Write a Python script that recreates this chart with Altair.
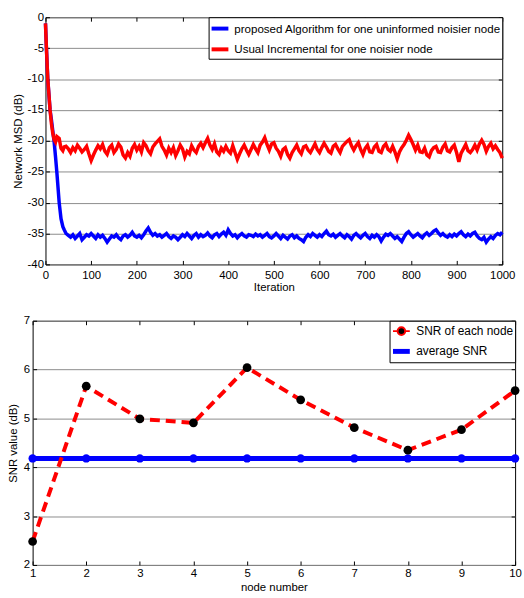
import altair as alt
import pandas as pd

# ---------------- top panel data ----------------
s_prop = "proposed Algorithm for one uninformed noisier node"
s_usual = "Usual Incremental for one noisier node"

iter_early = [0, 2, 5, 10, 13, 16, 19, 22, 25, 30, 34, 38, 41, 45]
red_early = [-1.0, -4.9, -10.0, -15.0, -17.2, -18.8, -19.8, -20.2, -19.3, -19.6, -21.2, -21.6, -21.0, -20.9]
blue_early = [-1.0, -4.9, -10.0, -15.0, -16.6, -18.4, -20.2, -22.6, -25.2, -30.0, -32.6, -33.9, -34.4, -35.0]

iter_main = list(range(50, 1001, 5))
red_main = [
    -21.3, -21.9, -21.1, -21.6, -20.7, -21.2, -21.8, -21.4, -20.9, -22.1,
    -23.2, -22.3, -21.5, -20.8, -21.3, -20.6, -21.7, -22.2, -21.1, -20.7,
    -21.9, -21.4, -20.5, -21.0, -22.3, -22.8, -21.9, -22.5, -21.2, -20.6,
    -21.5, -20.9, -21.8, -20.3, -20.8, -21.6, -22.1, -21.0, -20.5, -20.1,
    -19.7, -20.9, -21.5, -22.3, -21.2, -21.9, -21.1, -22.4, -21.6, -20.7,
    -21.3, -22.6, -21.7, -22.1, -20.8, -21.5, -21.9, -20.9, -20.4, -21.1,
    -20.3, -19.6, -20.7, -21.4, -20.5, -21.8, -22.2, -21.2, -21.7, -20.9,
    -21.6, -22.0, -20.8, -21.9, -23.0, -22.1, -21.3, -20.7, -21.5, -22.2,
    -21.4, -20.6, -21.3, -21.9, -20.7, -20.2, -19.5, -20.6, -21.5, -20.5,
    -20.3, -21.2, -21.7, -22.5, -21.4, -21.1, -22.2, -22.8, -21.9, -21.3,
    -20.7, -21.6, -22.1, -21.0, -20.8, -21.5, -21.9, -21.2, -20.5, -21.4,
    -21.9, -21.1, -20.4, -21.0, -21.7, -22.0, -20.9, -20.6, -21.3, -21.9,
    -20.9, -20.5, -20.1, -19.8, -20.8, -21.5, -20.8, -20.3, -21.4, -22.2,
    -21.2, -20.7, -21.8, -21.9, -21.0, -20.6, -21.7, -21.9, -20.9, -20.5,
    -21.4, -21.7, -20.9, -21.8, -22.9, -21.8, -21.1, -20.6, -19.9, -19.1,
    -19.8, -20.6, -21.5, -20.7, -21.8, -21.9, -21.2, -22.3, -22.6, -21.6,
    -21.1, -20.9, -21.8, -21.9, -21.0, -20.5, -21.6, -21.8, -21.1, -20.7,
    -21.9, -23.4, -22.0, -21.3, -20.6, -21.6, -21.9, -21.4, -20.7, -21.5,
    -20.5, -19.9, -20.6, -21.7, -20.9, -20.4, -21.3, -20.8, -21.4, -21.9,
    -22.8,
]
blue_main = [
    -35.3, -35.6, -35.2, -35.8, -35.4, -35.0, -36.0, -35.6, -35.2, -35.4,
    -35.0, -35.4, -35.8, -35.2, -35.6, -35.3, -35.8, -36.4, -35.9, -35.4,
    -35.6, -35.2, -35.7, -36.0, -35.4, -35.2, -35.6, -35.3, -34.8, -35.4,
    -35.6, -35.3, -35.7, -35.2, -34.6, -34.1, -34.8, -35.3, -35.0, -35.4,
    -35.2, -35.6, -35.3, -35.0, -35.5, -35.8, -35.4, -35.6, -36.0, -35.6,
    -35.2, -35.5, -35.0, -35.4, -35.8, -35.3, -35.0, -35.6, -35.2, -35.5,
    -35.3, -34.9, -35.4, -35.7, -35.2, -35.0, -35.5, -35.1, -34.8, -35.3,
    -34.4, -35.0, -35.4, -35.2, -35.7, -35.3, -35.0, -35.4, -35.6, -35.2,
    -35.3, -35.5, -35.1, -35.4, -35.2, -35.6, -35.3, -35.0, -35.5, -35.7,
    -35.4, -35.0, -35.4, -35.8, -35.3, -35.6, -35.9, -35.4, -35.2, -35.7,
    -35.4, -35.8, -36.0, -36.3, -35.6, -35.2, -35.5, -35.0, -35.3, -35.6,
    -35.2, -35.5, -35.0, -34.6, -35.2, -35.4, -35.1, -35.6, -35.3, -35.0,
    -35.4, -35.7, -35.2, -35.5, -35.9, -35.3, -35.0, -35.4, -35.7, -35.3,
    -35.0, -35.5, -35.8, -35.3, -35.6, -35.2, -35.5, -36.2, -35.6, -35.1,
    -35.3, -35.0, -35.4, -35.8, -35.5, -35.9, -36.3, -35.6, -35.0, -34.7,
    -35.2, -35.6, -35.3, -35.0, -35.4, -35.7, -35.2, -34.9, -35.3, -35.0,
    -34.6, -34.4, -34.9, -35.3, -35.0, -35.4, -35.6, -35.2, -35.5, -35.1,
    -35.4, -35.0, -34.7, -35.2, -35.5, -35.1, -35.4, -35.0, -34.8, -35.4,
    -35.8, -36.0, -35.6, -36.4, -35.9, -35.5, -35.8, -35.3, -35.0, -35.2,
    -34.8,
]

top_xticks = [0, 100, 200, 300, 400, 500, 600, 700, 800, 900, 1000]
top_yticks = [-40, -35, -30, -25, -20, -15, -10, -5, 0]

# ---------------- bottom panel data ----------------
nodes = [1, 2, 3, 4, 5, 6, 7, 8, 9, 10]
snr_node = [2.48, 5.66, 4.99, 4.91, 6.04, 5.38, 4.81, 4.35, 4.77, 5.57]
snr_avg = [4.18, 4.18, 4.18, 4.18, 4.18, 4.18, 4.18, 4.18, 4.18, 4.18]
leg_names = ["SNR of each node", "average SNR"]
bot_yticks = [2, 3, 4, 5, 6, 7]

FONT = "Liberation Sans"
BLUE = "#0000ff"
RED = "#ff0000"

rows = []
for it, v in zip(iter_early + iter_main, blue_early + blue_main):
    rows.append({"iter": it, "msd": v, "series": s_prop})
for it, v in zip(iter_early + iter_main, red_early + red_main):
    rows.append({"iter": it, "msd": v, "series": s_usual})
df_top = pd.DataFrame(rows)

df_bot = pd.DataFrame({"node": nodes, "snr": snr_node, "avg": snr_avg})
df_leg = pd.DataFrame({"series": leg_names})


def main_axis(orient, values, title, grid, label_pad, title_pad):
    return alt.Axis(orient=orient, values=values, title=title, grid=grid,
                    domain=False, ticks=True, tickSize=4, offset=-4,
                    labelPadding=label_pad, titlePadding=title_pad,
                    labelFlush=False, labelOverlap=False,
                    labelExpr="'' + datum.value")


def frame_axis(orient, values):
    return alt.Axis(orient=orient, values=values, title=None, grid=False,
                    labels=False, domain=False, ticks=True, tickSize=4, offset=-4)


# ---------------- top chart ----------------
xs_top = alt.Scale(domain=[0, 1000], nice=False, zero=False)
ys_top = alt.Scale(domain=[-40, 0], nice=False, zero=False)
top_legend = alt.Legend(title=None, orient="top-right", offset=0, padding=1,
                        rowPadding=2, symbolType="stroke", symbolSize=289,
                        symbolStrokeWidth=4, labelFontSize=11.7, labelLimit=0,
                        labelOffset=4, strokeColor="black", fillColor="white",
                        labelFont=FONT, labelColor="black")
color_top = alt.Color("series:N", scale=alt.Scale(domain=[s_prop, s_usual], range=[BLUE, RED]),
                      legend=top_legend)

blue_line = alt.Chart(df_top).transform_filter(alt.datum.series == s_prop).mark_line(strokeWidth=3.5).encode(
    x=alt.X("iter:Q", scale=xs_top, axis=main_axis("bottom", top_xticks, "Iteration", False, 5, 1)),
    y=alt.Y("msd:Q", scale=ys_top, axis=main_axis("left", top_yticks, "Network MSD (dB)", True, 2, 4)),
    color=color_top,
)
red_line = alt.Chart(df_top).transform_filter(alt.datum.series == s_usual).mark_line(strokeWidth=3.5).encode(
    x=alt.X("iter:Q", scale=xs_top, axis=None),
    y=alt.Y("msd:Q", scale=ys_top, axis=None),
    color=color_top,
)
frame_top = alt.Chart(pd.DataFrame({"fx": [top_xticks[0], top_xticks[-1]],
                                    "fy": [top_yticks[0], top_yticks[-1]]})).mark_point(opacity=0).encode(
    x=alt.X("fx:Q", scale=xs_top, axis=frame_axis("top", top_xticks)),
    y=alt.Y("fy:Q", scale=ys_top, axis=frame_axis("right", top_yticks)),
)
top = alt.layer(blue_line, red_line, frame_top).resolve_axis(x="independent", y="independent").properties(
    width=462, height=250)

# ---------------- bottom chart ----------------
xs_bot = alt.Scale(domain=[1, 10], nice=False, zero=False)
ys_bot = alt.Scale(domain=[2, 7], nice=False, zero=False)

snr_symbol = "M-1,0L-0.45,0M0.45,0L1,0M0.45,0A0.45,0.45,0,1,1,-0.45,0A0.45,0.45,0,1,1,0.45,0Z"
bot_legend = alt.Legend(title=None, orient="top-right", offset=0, padding=1,
                        rowPadding=1, symbolSize=289, symbolStrokeWidth=2.5,
                        labelFontSize=12, labelLimit=0, labelOffset=4,
                        strokeColor="black", fillColor="white",
                        labelFont=FONT, labelColor="black")

base_bot = alt.Chart(df_bot)
avg_line = base_bot.mark_line(color=BLUE, strokeWidth=5).encode(
    x=alt.X("node:Q", scale=xs_bot, axis=main_axis("bottom", nodes, "node number", False, 3, 2)),
    y=alt.Y("avg:Q", scale=ys_bot, axis=main_axis("left", bot_yticks, "SNR value (dB)", True, 3, 5)),
)
avg_pts = base_bot.mark_circle(color=BLUE, size=70, opacity=1).encode(
    x=alt.X("node:Q", scale=xs_bot, axis=None),
    y=alt.Y("avg:Q", scale=ys_bot, axis=None),
)
snr_line = base_bot.mark_line(color=RED, strokeWidth=4, strokeDash=[10, 6]).encode(
    x=alt.X("node:Q", scale=xs_bot, axis=None),
    y=alt.Y("snr:Q", scale=ys_bot, axis=None),
)
snr_pts = base_bot.mark_circle(color="black", size=78, opacity=1).encode(
    x=alt.X("node:Q", scale=xs_bot, axis=None),
    y=alt.Y("snr:Q", scale=ys_bot, axis=None),
)
legend_layer = alt.Chart(df_leg).transform_filter("false").mark_point(
    filled=True, fill="black", opacity=1).encode(
    stroke=alt.Stroke("series:N", scale=alt.Scale(domain=leg_names, range=[RED, BLUE]), legend=bot_legend),
    shape=alt.Shape("series:N", scale=alt.Scale(domain=leg_names, range=[snr_symbol, "stroke"]), legend=bot_legend),
    strokeWidth=alt.StrokeWidth("series:N", scale=alt.Scale(domain=leg_names, range=[2, 5]), legend=bot_legend),
)
frame_bot = alt.Chart(pd.DataFrame({"fx": [nodes[0], nodes[-1]],
                                    "fy": [bot_yticks[0], bot_yticks[-1]]})).mark_point(opacity=0).encode(
    x=alt.X("fx:Q", scale=xs_bot, axis=frame_axis("top", nodes)),
    y=alt.Y("fy:Q", scale=ys_bot, axis=frame_axis("right", bot_yticks)),
)
bottom = alt.layer(avg_line, avg_pts, snr_line, snr_pts, legend_layer, frame_bot).resolve_axis(
    x="independent", y="independent").properties(width=488, height=247)

chart = alt.vconcat(top, bottom, spacing=57, center=True, bounds="flush").resolve_scale(
    color="independent", stroke="independent", shape="independent", strokeWidth="independent"
).resolve_legend(
    color="independent", stroke="independent", shape="independent", strokeWidth="independent"
).properties(
    padding={"left": 7, "top": 7, "right": -2, "bottom": 0}
).configure_axis(
    labelFont=FONT, titleFont=FONT, labelFontSize=11.5, titleFontSize=11.5,
    labelColor="black", titleColor="black", tickColor="black", tickWidth=1,
    titleFontWeight="normal", gridColor="#8c8c8c", gridWidth=1,
).configure_view(stroke="black", strokeWidth=1).configure_legend(cornerRadius=0)

chart.save("out.html", embed_options={"renderer": "svg", "actions": False})
